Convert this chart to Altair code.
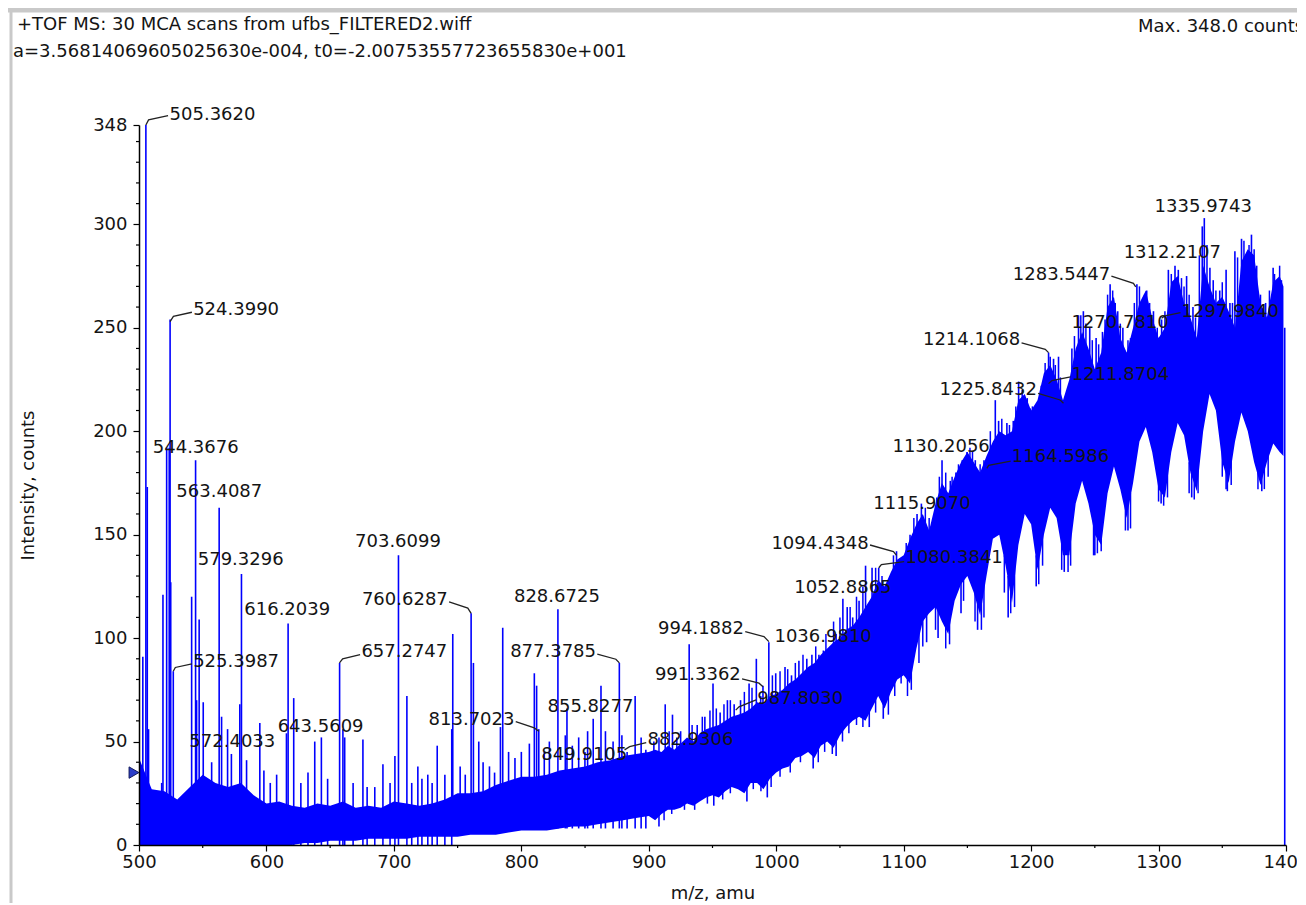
import altair as alt
import pandas as pd

# ---------------- data ----------------
header_lines = [
    "+TOF MS: 30 MCA scans from ufbs_FILTERED2.wiff",
    "a=3.56814069605025630e-004, t0=-2.00753557723655830e+001",
    "Max. 348.0 counts",
]

x_ticks = [500, 600, 700, 800, 900, 1000, 1100, 1200, 1300, 1400]
x_minor = [550, 650, 750, 850, 950, 1050, 1150, 1250, 1350]
y_ticks = [0, 50, 100, 150, 200, 250, 300, 348]
y_minor = [10, 20, 30, 40, 60, 70, 80, 90, 110, 120, 130, 140, 160, 170, 180, 190,
           210, 220, 230, 240, 260, 270, 280, 290, 310, 320, 330, 340]

# dense part of the profile spectrum (lower / upper edge of the solid blue)
band_mz = [500, 510, 520, 530, 540, 550, 560, 570, 580, 590, 600, 610, 620, 630, 640,
           650, 660, 670, 680, 690, 700, 710, 720, 730, 740, 750, 760, 770, 780, 790,
           800, 810, 820, 830, 840, 850, 860, 870, 880, 890, 900,
           905, 910, 915, 920, 925, 930, 935, 940, 945, 950, 955, 960, 965, 970, 975,
           980, 985, 990, 995, 1000, 1005, 1010, 1015, 1020, 1025, 1030, 1035, 1040,
           1045, 1050, 1055, 1060, 1065, 1070, 1075, 1080, 1085, 1090, 1095, 1100,
           1105, 1110, 1115, 1120, 1125, 1130, 1135, 1140, 1145, 1150, 1155, 1160,
           1165, 1170, 1175, 1180, 1185, 1190, 1195, 1200, 1205, 1210, 1215, 1220,
           1225, 1230, 1235, 1240, 1245, 1250, 1255, 1260, 1265, 1270, 1275, 1280,
           1285, 1290, 1295, 1300, 1305, 1310, 1315, 1320, 1325, 1330, 1335, 1340,
           1345, 1350, 1355, 1360, 1365, 1370, 1375, 1380, 1385, 1390, 1395, 1398]
band_lo = [0, 0, 0, 0, 0, 0, 0, 0, 0, 0, 0, 0, 0, 1, 1,
           2, 2, 2, 3, 3, 3, 3, 4, 4, 4, 4, 5, 5, 5, 6,
           7, 7, 7, 8, 9, 9, 10, 11, 12, 13, 14,
           12, 15, 17, 17, 18, 20, 19, 21, 23, 24, 23, 26, 28, 27, 25,
           30, 30, 27, 32, 35, 37, 38, 42, 43, 45, 42, 48, 50,
           47, 53, 57, 60, 62, 60, 66, 72, 66, 74, 80, 82,
           78, 95, 108, 112, 115, 108, 102, 118, 126, 130, 122, 111,
           130, 148, 150, 135, 117, 145, 160, 155, 133, 150, 163, 158,
           140, 140, 165, 176, 165, 150, 145, 170, 183, 172, 158, 175,
           195, 202, 190, 172, 168, 190, 204, 198, 180, 171, 200, 218,
           210, 185, 175, 195, 209, 200, 185, 174, 185, 194, 190, 188]
band_hi = [42, 27, 26, 22, 28, 34, 30, 28, 30, 24, 20, 21, 19, 18, 20,
           19, 21, 18, 19, 18, 21, 20, 19, 20, 22, 25, 25, 26, 29, 31,
           33, 33, 34, 36, 37, 38, 40, 41, 43, 44, 45,
           46, 45, 48, 46, 49, 52, 50, 54, 56, 57, 58, 60, 62, 63, 64,
           66, 69, 68, 72, 73, 75, 78, 80, 83, 86, 88, 92, 95,
           98, 100, 104, 106, 110, 115, 120, 128, 125, 132, 138, 140,
           148, 155, 160, 152, 165, 175, 170, 178, 185, 190, 185, 180,
           188, 195, 200, 198, 200, 215, 218, 210, 215, 228, 232, 225,
           215, 225, 240, 248, 240, 230, 238, 260, 265, 245, 238, 250,
           262, 268, 255, 245, 250, 272, 275, 262, 255, 245, 280, 270,
           262, 265, 258, 250, 282, 288, 285, 262, 255, 272, 275, 270]

# individual spectrum lines sticking out of the dense part (m/z, bottom, top)
stick_mz = [503.0, 505.4, 506.5, 507.5, 517.8, 518.8, 521.7, 523.7, 524.4, 524.9, 526.9,
            541.3, 544.4, 545.2, 547.2, 550.4, 557.0, 562.9, 564.8, 569.5, 572.5, 579.1,
            580.4, 584.4, 594.8, 598.0, 603.0, 608.0, 615.7, 617.0, 621.4, 627.0, 632.6,
            637.9, 643.1, 648.0, 657.4, 660.0, 661.4, 668.0, 675.7, 679.0, 685.0, 691.4,
            697.0, 700.8, 703.6, 710.2, 714.0, 718.8, 722.0, 726.6, 730.0, 734.0, 740.0,
            745.4, 746.2, 752.0, 756.0, 760.6, 762.4, 766.6, 770.0, 775.0, 779.0, 783.6,
            785.4, 790.0, 795.0, 800.0, 806.3, 810.2, 812.0, 813.7, 818.0, 822.0, 828.7,
            834.5, 835.8, 840.0, 845.0, 849.9, 852.0, 856.4, 862.5, 866.0, 872.0, 876.9,
            878.9, 883.0, 889.3, 894.0, 897.7,
            904.0, 912.9, 918.6, 925.0, 931.7, 938.0, 944.0, 950.4, 956.0, 961.7, 967.0,
            972.0, 978.7, 984.4, 987.8, 989.6, 994.2, 999.6, 1006.9, 1012.0, 1017.8,
            1024.0, 1028.0, 1033.5, 1037.0, 1042.7, 1047.0, 1052.3, 1055.7, 1060.0,
            1065.0, 1070.1, 1075.2, 1080.4, 1089.0, 1094.4, 1099.0,
            1105.0, 1110.5, 1113.9, 1122.2, 1126.0, 1130.1, 1136.6, 1141.0, 1146.0,
            1149.7, 1156.2, 1163.0, 1165.4, 1171.9, 1174.5, 1181.0, 1186.0, 1190.2,
            1195.4, 1199.3, 1203.3, 1208.0, 1213.7, 1217.6, 1221.5, 1225.4, 1232.0,
            1237.2, 1241.0, 1246.0, 1251.0, 1256.0, 1262.0, 1266.0, 1272.0, 1278.0,
            1283.0, 1287.0, 1290.7, 1296.0, 1302.4, 1307.7, 1312.9, 1315.5, 1322.0,
            1327.0, 1334.3, 1335.9, 1340.3, 1342.9, 1348.0, 1353.0, 1356.0, 1359.9,
            1365.1, 1369.0, 1372.9, 1377.0, 1384.0, 1389.9, 1393.3, 1396.4,
            908.0, 951.0, 977.0, 993.0, 1029.0, 1047.0, 1073.0, 1084.0, 1118.0, 1127.0,
            1145.0, 1158.0, 1182.0, 1204.0, 1226.0, 1250.0, 1276.0, 1302.0, 1326.0,
            1353.0, 1381.0, 1399.0]
stick_lo = [0] * 56 + [8] * 37 + \
           [30, 30, 30, 35, 35, 40, 40, 40, 45, 45, 50,
            50, 50, 55, 55, 55, 55, 60, 60, 65, 65,
            70, 70, 75, 75, 80, 80, 85, 90, 90,
            95, 100, 100, 110, 110, 120, 120,
            125, 130, 135, 135, 140, 150, 150, 155, 160,
            165, 160, 160, 165, 170, 175, 175, 175, 190,
            195, 190, 190, 195, 205, 210, 205, 195, 200,
            215, 225, 220, 210, 215, 235, 240, 225, 220,
            235, 240, 245, 235, 225, 240, 250, 250, 245,
            230, 250, 255, 250, 245, 240, 240, 235, 240,
            260, 260, 260, 255, 235, 250, 250, 250,
            9, 19, 21, 23, 37, 43, 57, 61, 98, 100,
            112, 104, 110, 125, 132, 140, 152, 165, 168,
            172, 171, 0]
stick_hi = [91, 348, 173, 56, 30, 121, 192, 192, 254, 127, 84,
            120, 186, 70, 109, 69, 40, 163, 62, 56, 44, 68,
            131, 41, 59, 36, 30, 34, 54, 107, 71, 30, 35,
            50, 52, 32, 88, 56, 52, 30, 51, 28, 28, 39,
            30, 43, 140, 72, 30, 38, 32, 34, 30, 48, 34,
            56, 102, 38, 34, 112, 88, 50, 40, 38, 35, 57,
            105, 45, 42, 45, 49, 83, 77, 56, 45, 50, 114,
            53, 66, 48, 52, 45, 55, 61, 77, 55, 50, 88,
            53, 45, 72, 52, 46,
            50, 68, 63, 55, 97, 58, 62, 78, 64, 70, 68,
            70, 78, 90, 72, 77, 98, 83, 86, 82, 89,
            90, 92, 92, 94, 96, 102, 119, 115, 110,
            118, 135, 134, 134, 128, 142, 138,
            150, 160, 165, 156, 168, 186, 176, 180, 186,
            190, 186, 186, 182, 215, 205, 204, 205, 224,
            214, 211, 202, 222, 238, 235, 236, 215, 240,
            256, 258, 250, 245, 248, 271, 262, 250, 245,
            271, 262, 268, 258, 254, 278, 280, 278, 275,
            260, 299, 303, 279, 273, 268, 278, 262, 287,
            293, 285, 295, 280, 262, 279, 273, 273,
            20, 30, 35, 35, 50, 55, 70, 75, 115, 118,
            130, 120, 130, 140, 145, 155, 165, 175, 180,
            185, 180, 250]

# short hairs on the upper and lower edges of the dense part (m/z, bottom, top)
hair_mz = [908, 916, 922, 934, 942, 948, 953, 959, 964, 975, 981, 997, 1003, 1009,
           1015, 1021, 1031, 1039, 1045, 1050, 1058, 1063, 1068, 1078, 1083, 1092,
           1102, 1108, 1117, 1120, 1128, 1133, 1138, 1143, 1152, 1154, 1160, 1168,
           1177, 1183, 1188, 1193, 1197, 1201, 1211, 1215, 1219, 1223, 1234, 1239,
           1243, 1248, 1253, 1258, 1260, 1264, 1268, 1270, 1276, 1281, 1285, 1289,
           1293, 1299, 1305, 1310, 1318, 1320, 1324, 1329, 1332, 1338, 1345, 1350,
           1358, 1362, 1367, 1371, 1375, 1380, 1387, 1391, 1395,
           912, 918, 928, 936, 946, 958, 964, 982, 988, 996, 1003, 1011, 1019, 1033,
           1038, 1044, 1052, 1057, 1063, 1068, 1078, 1088, 1093, 1098,
           1103, 1106, 1112, 1115, 1125, 1133, 1136, 1147, 1156, 1161, 1163, 1179,
           1184, 1187, 1206, 1209, 1224, 1229, 1231, 1249, 1252, 1255, 1274, 1278,
           1300, 1304, 1307, 1324, 1328, 1331, 1350, 1354, 1357, 1378, 1383, 1386]
hair_lo = [38, 40, 40, 45, 47, 50, 50, 52, 55, 57, 60, 65, 68, 70,
           72, 75, 80, 85, 90, 92, 95, 100, 105, 115, 118, 125,
           125, 135, 140, 135, 150, 150, 155, 160, 165, 165, 160, 170,
           175, 175, 190, 195, 190, 190, 205, 210, 205, 200, 215, 225,
           225, 215, 215, 225, 235, 240, 230, 225, 220, 235, 240, 245,
           235, 225, 235, 250, 245, 245, 240, 230, 245, 255, 245, 240,
           240, 255, 260, 260, 255, 235, 245, 250, 250,
           12, 15, 17, 17, 20, 22, 25, 27, 26, 28, 33, 35, 40, 40,
           45, 44, 50, 54, 58, 57, 64, 63, 72, 78,
           72, 75, 88, 96, 104, 95, 97, 118, 108, 104, 110, 122,
           112, 115, 126, 135, 133, 132, 135, 140, 141, 142, 152, 153,
           166, 164, 168, 170, 167, 170, 178, 171, 174, 172, 172, 178]
hair_hi = [52, 55, 52, 58, 62, 65, 66, 68, 70, 74, 76, 82, 84, 85,
           88, 92, 96, 102, 108, 110, 115, 120, 125, 134, 130, 140,
           146, 158, 163, 158, 178, 180, 178, 184, 192, 190, 184, 200,
           206, 203, 212, 220, 216, 212, 233, 236, 232, 226, 246, 256,
           252, 244, 242, 254, 266, 268, 258, 252, 244, 262, 270, 266,
           262, 250, 258, 276, 274, 270, 266, 255, 285, 290, 268, 272,
           262, 284, 292, 290, 288, 266, 268, 276, 280,
           25, 28, 30, 30, 33, 36, 38, 40, 40, 42, 48, 50, 55, 55,
           60, 60, 65, 70, 75, 72, 82, 80, 88, 95,
           100, 100, 110, 120, 125, 120, 120, 140, 130, 125, 135, 140,
           135, 138, 145, 155, 150, 155, 155, 160, 160, 160, 170, 170,
           180, 180, 185, 185, 185, 190, 195, 190, 190, 190, 190, 192]

# peak labels: text, anchor m/z, anchor intensity, alignment
label_text = ["505.3620", "524.3990", "525.3987", "657.2747", "882.9306", "987.8030",
              "1080.3841", "1164.5986", "1211.8704", "1297.9840",
              "760.6287", "813.7023", "877.3785", "994.1882", "991.3362", "1094.4348",
              "1214.1068", "1225.8432", "1283.5447",
              "544.3676", "563.4087", "579.3296", "616.2039", "572.4033", "643.5609",
              "703.6099", "828.6725", "855.8277", "849.9105", "1036.9810", "1052.8865",
              "1115.9070", "1130.2056", "1270.7810", "1312.2107", "1335.9743"]
label_mz = [524.0, 542.5, 542.5, 674.5, 899.0, 985.2, 1101.4, 1184.9, 1231.9, 1318.1,
            742.3, 794.6, 858.6, 974.7, 972.2, 1072.6, 1191.5, 1204.5, 1262.0,
            544.5, 563.0, 579.8, 616.3, 573.2, 642.5, 703.2, 827.9, 854.2, 849.4,
            1036.8, 1052.3, 1114.4, 1129.4, 1269.8, 1310.8, 1335.1]
label_y = [352.8, 258.6, 88.6, 93.4, 50.7, 70.8, 138.5, 187.6, 227.2, 257.7,
           118.4, 60.4, 93.4, 104.6, 82.2, 145.7, 244.1, 219.9, 275.5,
           191.9, 170.5, 137.7, 113.6, 49.9, 57.2, 146.6, 119.9, 66.8, 43.5,
           100.6, 124.0, 165.0, 192.5, 252.1, 286.0, 308.4]
label_align = ["left"] * 10 + ["right"] * 9 + ["center"] * 17

# leader lines joining labels to their peaks
leader_id = [1, 1, 1, 2, 2, 2, 3, 3, 3, 4, 4, 4, 5, 5, 5, 6, 6, 6, 7, 7, 7, 8, 8, 8,
             9, 9, 9, 10, 10, 10, 11, 11, 11, 12, 12, 12, 13, 13, 13, 14, 14, 14,
             15, 15, 15, 16, 16, 16, 17, 17, 17, 18, 18, 18, 19, 19, 19]
leader_mz = [505.4, 507.5, 522.8, 524.4, 527.0, 541.5, 526.9, 528.5, 541.5,
             657.3, 659.8, 673.5, 881.0, 885.0, 898.0, 968.2, 970.8, 984.2,
             1080.5, 1082.5, 1100.4, 1165.3, 1166.7, 1184.0, 1213.7, 1216.3, 1231.0,
             1302.4, 1305.1, 1317.2,
             743.3, 758.0, 760.6, 795.6, 810.2, 813.7, 859.6, 874.2, 876.9,
             975.7, 990.4, 994.2, 973.2, 986.5, 989.6, 1073.6, 1092.0, 1094.4,
             1192.5, 1211.1, 1213.7, 1205.5, 1222.8, 1225.4, 1263.0, 1280.3, 1282.1]
leader_y = [348.0, 350.5, 352.5, 253.0, 255.5, 257.5, 84.0, 85.8, 87.5,
            88.0, 90.0, 92.0, 46.0, 47.5, 49.5, 65.2, 66.8, 70.1,
            134.0, 135.5, 137.0, 182.0, 183.5, 185.5, 223.0, 224.5, 226.3,
            254.6, 255.8, 257.3,
            117.5, 114.5, 112.0, 59.6, 56.6, 55.0, 92.2, 89.8, 88.0,
            103.1, 100.7, 98.3, 80.3, 78.2, 76.5, 145.0, 141.8, 140.0,
            242.7, 239.6, 238.0, 218.3, 215.1, 213.5, 275.0, 271.5, 269.8]

marker_mz = [500]
marker_y = [35]

# ---------------- chart ----------------
FONT = "DejaVu Sans"
BLUE = "#0000ff"
INK = "#141414"
W, H = 1147, 720

xscale = alt.Scale(domain=[500, 1400], nice=False, zero=False)
yscale = alt.Scale(domain=[0, 348], nice=False, zero=False)

X_AX = alt.Axis(values=x_ticks, format="d", grid=False, tickSize=6, tickWidth=1.2,
                tickColor="#000", domainColor="#000", domainWidth=1.5,
                labelFont=FONT, labelFontSize=18, labelColor=INK, labelPadding=2,
                labelFlush=False, labelOverlap=False, title="m/z, amu",
                titleFont=FONT, titleFontSize=18, titleFontWeight="normal",
                titleColor=INK, titleY=48, titleBaseline="middle", zindex=1)
Y_AX = alt.Axis(values=y_ticks, format="d", grid=False, tickSize=6, tickWidth=1.2,
                tickColor="#000", domainColor="#000", domainWidth=1.5,
                labelFont=FONT, labelFontSize=18, labelColor=INK, labelPadding=6,
                labelFlush=False, labelOverlap=False, title="Intensity, counts",
                titleFont=FONT, titleFontSize=18, titleFontWeight="normal",
                titleColor=INK, titleX=-111, titleY=360, titleAngle=270,
                titleAlign="center", titleBaseline="middle", zindex=1)


def X(field="mz"):
    return alt.X(f"{field}:Q", scale=xscale, axis=X_AX)


def Y(field="cnt"):
    return alt.Y(f"{field}:Q", scale=yscale, axis=Y_AX)


one = pd.DataFrame({"k": [0]})

band_df = pd.DataFrame({"mz": band_mz, "cnt": band_lo, "cnt2": band_hi})
band = alt.Chart(band_df).mark_area(color=BLUE, opacity=1, interpolate="linear").encode(
    x=X(), y=Y(), y2="cnt2:Q")

stick_df = pd.DataFrame({"mz": stick_mz, "cnt": stick_lo, "cnt2": stick_hi})
sticks = alt.Chart(stick_df).mark_rule(color=BLUE, strokeWidth=1.6).encode(
    x=X(), y=Y(), y2="cnt2:Q")

hair_df = pd.DataFrame({"mz": hair_mz, "cnt": hair_lo, "cnt2": hair_hi})
hairs = alt.Chart(hair_df).mark_rule(color=BLUE, strokeWidth=1.5).encode(
    x=X(), y=Y(), y2="cnt2:Q")

yminor = alt.Chart(pd.DataFrame({"cnt": y_minor})).mark_rule(
    color="#000", strokeWidth=1.2).encode(y=Y(), x=alt.value(-3), x2=alt.value(0))
xminor = alt.Chart(pd.DataFrame({"mz": x_minor})).mark_rule(
    color="#000", strokeWidth=1.2).encode(x=X(), y=alt.value(H), y2=alt.value(H + 3))

lead_df = pd.DataFrame({"id": leader_id, "mz": leader_mz, "cnt": leader_y,
                        "o": list(range(len(leader_id)))})
leaders = alt.Chart(lead_df).mark_line(color="#222", strokeWidth=1.3).encode(
    x=X(), y=Y(), detail="id:N", order="o:Q")

lab_df = pd.DataFrame({"t": label_text, "mz": label_mz, "cnt": label_y, "a": label_align})
label_layers = []
for a in ["left", "right", "center"]:
    sub = lab_df[lab_df["a"] == a]
    label_layers.append(
        alt.Chart(sub).mark_text(align=a, baseline="middle", font=FONT, fontSize=18,
                                 color=INK).encode(x=X(), y=Y(), text="t:N"))

marker = alt.Chart(pd.DataFrame({"mz": marker_mz, "cnt": marker_y})).mark_point(
    shape="triangle-right", filled=True, size=130, color="#2a3cc8", stroke="#10185a",
    strokeWidth=1, opacity=1, xOffset=-5).encode(x=X(), y=Y())

frame_top = alt.Chart(one).mark_rule(color="#c9c9c9", strokeWidth=5).encode(
    x=alt.value(-131), x2=alt.value(1158), y=alt.value(-115))
frame_left = alt.Chart(one).mark_rule(color="#c9c9c9", strokeWidth=3).encode(
    x=alt.value(-128), y=alt.value(-113), y2=alt.value(778))

header_pos = [(-122, -100), (-126, -73), (999, -98)]
headers = []
for txt, (hx, hy) in zip(header_lines, header_pos):
    headers.append(
        alt.Chart(pd.DataFrame({"t": [txt]})).mark_text(
            align="left", baseline="middle", font=FONT, fontSize=18, color=INK).encode(
            x=alt.value(hx), y=alt.value(hy), text="t:N"))

chart = alt.layer(
    frame_top, frame_left, band, sticks, hairs, yminor, xminor, leaders,
    *label_layers, marker, *headers
).properties(
    width=W, height=H,
    padding={"left": 131, "top": 117, "right": 11, "bottom": 58},
    autosize=alt.AutoSizeParams(type="none"),
    background="white",
).configure_view(strokeWidth=0)

chart.save("out.html", embed_options={"renderer": "svg", "actions": False})
